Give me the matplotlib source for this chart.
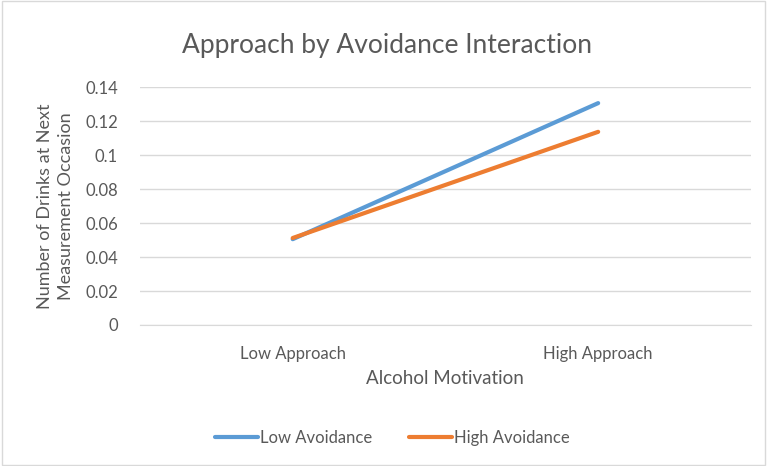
import matplotlib.pyplot as plt
import matplotlib.patches as mpatches

categories = ["Low Approach", "High Approach"]
low_avoidance = [0.0505, 0.1306]
high_avoidance = [0.0512, 0.1137]
yticks = [0, 0.02, 0.04, 0.06, 0.08, 0.1, 0.12, 0.14]
ytick_labels = ["0", "0.02", "0.04", "0.06", "0.08", "0.1", "0.12", "0.14"]

plt.rcParams['font.family'] = ['Lato', 'DejaVu Sans']
txt = "#595959"

fig = plt.figure(figsize=(7.67, 4.66), dpi=100)
ax = fig.add_axes([0.1825, 0.3026, 0.7965, 0.5104])

x = [0.5, 1.5]
ax.plot(x, low_avoidance, color="#5B9BD5", lw=3, solid_capstyle="round", label="Low Avoidance")
ax.plot(x, high_avoidance, color="#ED7D31", lw=3, solid_capstyle="round", label="High Avoidance")

ax.set_xlim(0, 2)
ax.set_ylim(0, 0.14)
ax.set_yticks(yticks)
ax.set_yticklabels(ytick_labels)
ax.set_xticks(x)
ax.set_xticklabels(categories)
ax.tick_params(length=0, colors=txt, labelsize=12)
ax.tick_params(axis="x", pad=15)
ax.tick_params(axis="y", pad=16)
ax.grid(axis="y", color="#D9D9D9", lw=1)
ax.set_axisbelow(True)
for s in ["top", "right", "left"]:
    ax.spines[s].set_visible(False)
ax.spines["bottom"].set_color("#D9D9D9")

ax.set_xlabel("Alcohol Motivation", color=txt, fontsize=13.5, labelpad=6)
ax.set_ylabel("Number of Drinks at Next\nMeasurement Occasion", color=txt, fontsize=13,
              labelpad=8, linespacing=1.35)

fig.text(0.505, 0.903, "Approach by Avoidance Interaction", ha="center", va="center",
         fontsize=19, color=txt)

fig.legend(loc="center", bbox_to_anchor=(0.511, 0.06), ncol=2, frameon=False,
           fontsize=12, labelcolor=txt, handlelength=2.6, handletextpad=0.1, columnspacing=2.2)

fig.patches.append(mpatches.Rectangle((0.002, 0.002), 0.996, 0.996, transform=fig.transFigure,
                                      fill=False, edgecolor="#D9D9D9", lw=1))

fig.savefig("out.png", dpi=100)
